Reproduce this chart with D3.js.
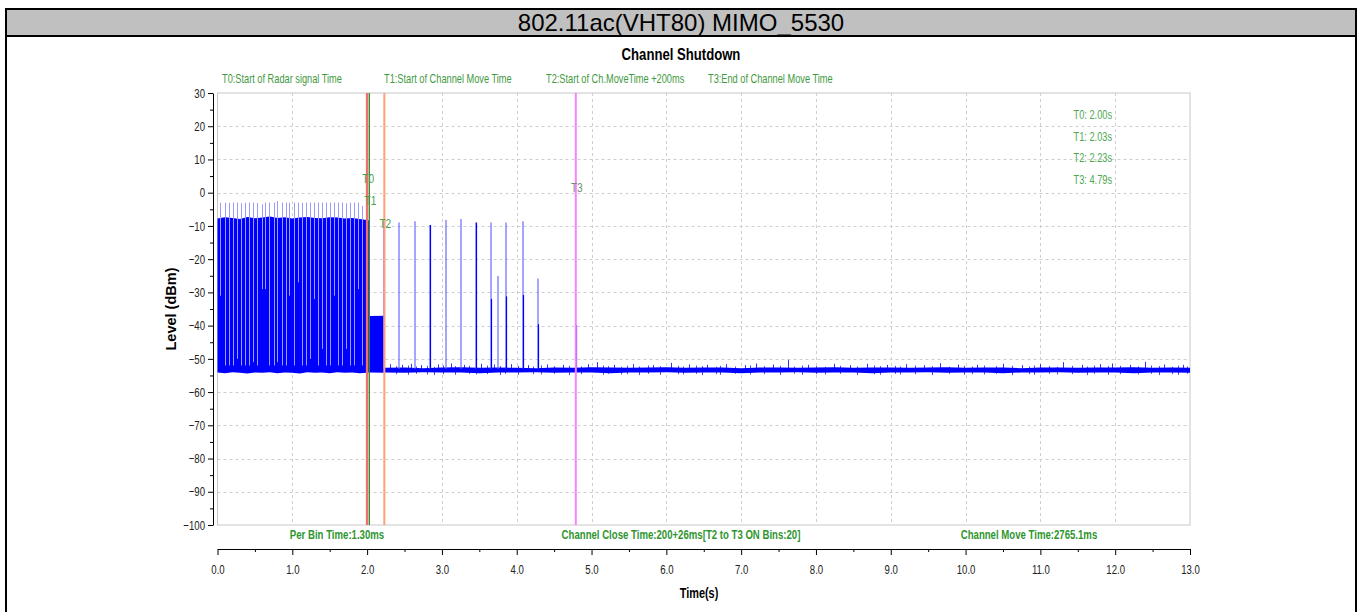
<!DOCTYPE html>
<html>
<head>
<meta charset="utf-8">
<script src="https://cdn.jsdelivr.net/npm/d3@7"></script>
<style>
  body { margin: 0; background: #fff; }
  text { font-family: "Liberation Sans", Arial, sans-serif; }
</style>
</head>
<body>
<svg id="chart" width="1362" height="612"></svg>
<script>
// ---- data ----
const chartTitle = "802.11ac(VHT80) MIMO_5530";
const plotTitle = "Channel Shutdown";
const xTicks = [0, 1, 2, 3, 4, 5, 6, 7, 8, 9, 10, 11, 12, 13];
const xMinor = [0.5, 1.5, 2.5, 3.5, 4.5, 5.5, 6.5, 7.5, 8.5, 9.5, 10.5, 11.5, 12.5];
const yTicks = [-100, -90, -80, -70, -60, -50, -40, -30, -20, -10, 0, 10, 20, 30];
const yMinor = [-95, -85, -75, -65, -55, -45, -35, -25, -15, -5, 5, 15, 25];

// markers T0..T3 (s)
const markerNames = ["T0", "T1", "T2", "T3"];
const markerT = [2.00, 2.03, 2.23, 4.79];
const topNotes = ["T0:Start of Radar signal Time", "T1:Start of Channel Move Time",
                  "T2:Start of Ch.MoveTime +200ms", "T3:End of Channel Move Time"];
const bottomNotes = ["Per Bin Time:1.30ms", "Channel Close Time:200+26ms[T2 to T3 ON Bins:20]",
                     "Channel Move Time:2765.1ms"];

// dense radar burst block (0 - 2.03 s): top edge, bottom edge (dBm)
const denseT   = [0.00, 0.10, 0.20, 0.30, 0.40, 0.50, 0.60, 0.70, 0.80, 0.90, 1.00, 1.10, 1.20, 1.30, 1.40, 1.50, 1.60, 1.70, 1.80, 1.90, 2.00, 2.03];
const denseTop = [-7.8, -7.4, -7.6, -7.9, -7.3, -7.7, -7.5, -7.2, -7.6, -7.4, -7.8, -7.5, -7.3, -7.6, -7.7, -7.4, -7.5, -7.8, -7.6, -7.9, -8.2, -8.4];
const denseLow = [-54.1, -54.3, -54.0, -54.2, -54.4, -54.1, -54.2, -54.0, -54.3, -54.1, -54.2, -54.4, -54.0, -54.2, -54.1, -54.3, -54.0, -54.2, -54.1, -54.3, -54.2, -54.0];

// comb pulses in the burst: time, peak, lowest point of the thin trace
const burstT   = [0.04, 0.10, 0.15, 0.21, 0.26, 0.32, 0.37, 0.42, 0.48, 0.53, 0.59, 0.64, 0.69, 0.75, 0.80, 0.86, 0.91, 0.96, 1.02,
                  1.07, 1.13, 1.18, 1.23, 1.29, 1.34, 1.40, 1.45, 1.50, 1.56, 1.61, 1.67, 1.72, 1.77, 1.83, 1.88, 1.93, 1.98];
const burstTop = [-3.0, -3.0, -3.1, -3.0, -3.0, -3.2, -3.0, -3.0, -3.0, -3.1, -3.5, -3.0, -3.0, -3.0, -2.5, -3.0, -3.0, -3.0, -3.0,
                  -3.0, -3.1, -3.0, -3.0, -3.0, -3.0, -3.0, -3.0, -3.0, -3.0, -3.0, -3.0, -3.2, -3.0, -3.0, -3.0, -4.0, -4.5];
const burstLow = [-31, -52, -52, -52, -50, -52, -52, -52, -51, -52, -29, -29, -52, -52, -51, -52, -52, -31, -52,
                  -27, -52, -52, -50, -32, -52, -47, -52, -52, -31, -52, -52, -47, -52, -52, -29, -52, -29];

// T1 -> T2 block
const midT   = [2.03, 2.23];
const midTop = [-37.1, -37.0];
const midLow = [-54.1, -54.2];

// single pulses after T2: time, peak, top of the solid part
const pulseT    = [2.23, 2.43, 2.64, 2.84, 3.05, 3.25, 3.45, 3.66, 3.75, 3.86, 4.08, 4.28, 4.79];
const pulseTop  = [-8.5, -9.0, -8.6, -9.7, -8.2, -7.9, -9.0, -9.0, -25.1, -9.0, -8.6, -25.8, -39.8];
const pulseCore = [-8.5, -53, -53, -9.7, -53, -53, -9.0, -32.0, -53, -31.2, -30.8, -39.6, -39.8];

// noise floor band after T2
const floorT  = [2.23, 2.50, 2.75, 3.00, 3.25, 3.50, 3.75, 4.00, 4.25, 4.50, 4.75, 5.00, 5.25, 5.50, 5.75, 6.00, 6.25, 6.50, 6.75, 7.00, 7.25, 7.50,
                 7.75, 8.00, 8.25, 8.50, 8.75, 9.00, 9.25, 9.50, 9.75, 10.00, 10.25, 10.50, 10.75, 11.00, 11.25, 11.50, 11.75, 12.00, 12.25, 12.50, 12.75, 13.00];
const floorHi = [-52.7, -52.6, -52.8, -52.6, -52.5, -52.7, -52.6, -52.7, -52.8, -52.6, -52.7, -52.5, -52.6, -52.7, -52.6, -52.5, -52.7, -52.6, -52.6, -52.8, -52.6, -52.6,
                 -52.7, -52.6, -52.5, -52.7, -52.6, -52.6, -52.7, -52.6, -52.5, -52.7, -52.6, -52.6, -52.8, -52.6, -52.6, -52.7, -52.6, -52.6, -52.5, -52.7, -52.6, -52.7];
const floorLo = [-54.1, -54.2, -54.0, -54.1, -54.1, -54.3, -54.1, -54.1, -54.0, -54.2, -54.1, -54.1, -54.3, -54.1, -54.1, -54.0, -54.2, -54.1, -54.1, -54.3, -54.1, -54.1,
                 -54.0, -54.2, -54.1, -54.1, -54.3, -54.1, -54.1, -54.0, -54.2, -54.1, -54.1, -54.3, -54.1, -54.1, -54.0, -54.2, -54.1, -54.1, -54.3, -54.1, -54.1, -54.2];
// visible noise spikes above and below the floor
const peakT = [2.31, 2.47, 2.58, 2.72, 2.95, 3.12, 3.30, 3.52, 3.70, 3.93, 4.15, 4.40, 4.62, 4.95, 5.07, 5.30, 5.55, 5.82, 6.06, 6.30, 6.55, 6.80, 7.05, 7.20,
               7.42, 7.63, 7.90, 8.24, 8.45, 8.68, 8.95, 9.20, 9.45, 9.66, 9.90, 10.15, 10.50, 10.75, 11.00, 11.30, 11.55, 11.80, 11.96, 12.20, 12.40, 12.65, 12.90];
const peakV = [-51.6, -51.8, -51.5, -51.9, -51.7, -51.4, -51.8, -51.5, -51.7, -51.6, -51.9, -51.7, -51.8, -51.6, -51.0, -51.8, -51.6, -51.9, -51.2, -51.7, -51.8, -51.6, -51.9, -51.4,
               -51.7, -50.3, -51.8, -51.5, -51.9, -51.5, -51.8, -51.6, -51.9, -51.3, -51.7, -51.8, -51.5, -51.9, -51.6, -51.0, -51.8, -51.6, -51.4, -51.8, -50.9, -51.7, -51.8];
const smallT = [2.38, 2.54, 2.66, 2.80, 2.90, 3.02, 3.18, 3.36, 3.45, 3.60, 3.78, 3.84, 4.02, 4.22, 4.33, 4.50, 4.70, 4.86, 5.15, 5.22, 5.40, 5.48, 5.64, 5.75,
                5.92, 6.15, 6.22, 6.40, 6.48, 6.66, 6.72, 6.92, 7.12, 7.30, 7.52, 7.70, 7.82, 8.00, 8.12, 8.32, 8.55, 8.78, 8.86, 9.05, 9.12, 9.32, 9.55, 9.78,
                9.98, 10.08, 10.25, 10.40, 10.62, 10.85, 10.92, 11.12, 11.22, 11.42, 11.62, 11.72, 11.90, 12.06, 12.30, 12.48, 12.58, 12.76, 12.84, 12.96];
const smallHi = [-52.2, -52.0, -52.3, -52.1, -52.4, -52.0, -52.2, -52.1, -52.3, -52.0, -52.2, -52.4, -52.1, -52.3, -52.0, -52.2, -52.1, -52.3, -52.0, -52.2, -52.4, -52.1, -52.3, -52.0,
                 -52.2, -52.1, -52.3, -52.0, -52.2, -52.4, -52.1, -52.3, -52.0, -52.2, -52.1, -52.3, -52.0, -52.2, -52.4, -52.1, -52.3, -52.0, -52.2, -52.1, -52.3, -52.0, -52.2, -52.4,
                 -52.1, -52.3, -52.0, -52.2, -52.1, -52.3, -52.0, -52.2, -52.4, -52.1, -52.3, -52.0, -52.2, -52.1, -52.3, -52.0, -52.2, -52.4, -52.1, -52.3];
const smallLo = [-54.6, -54.8, -54.5, -54.7, -54.9, -54.6, -54.8, -54.5, -54.7, -54.6, -54.9, -54.5, -54.8, -54.6, -54.7, -54.5, -54.9, -54.6, -54.8, -54.5, -54.7, -54.6, -54.9, -54.5,
                 -54.8, -54.6, -54.7, -54.5, -54.9, -54.6, -54.8, -54.5, -54.7, -54.6, -54.9, -54.5, -54.8, -54.6, -54.7, -54.5, -54.9, -54.6, -54.8, -54.5, -54.7, -54.6, -54.9, -54.5,
                 -54.8, -54.6, -54.7, -54.5, -54.9, -54.6, -54.8, -54.5, -54.7, -54.6, -54.9, -54.5, -54.8, -54.6, -54.7, -54.5, -54.9, -54.6, -54.8, -54.5];

// ---- drawing ----
const svg = d3.select("#chart");
const x = d3.scaleLinear().domain([0, 13]).range([217.5, 1190]);
const y = d3.scaleLinear().domain([-100, 30]).range([525, 93]);
const px = t => Math.round(x(t)) + 0.5; // crisp 1px verticals

// squeeze text horizontally (chart font is a narrow face)
function squeeze(sel, k) {
  sel.each(function () {
    const t = d3.select(this);
    const tx = +t.attr("x") || 0, ty = +t.attr("y") || 0;
    t.attr("x", 0).attr("y", 0).attr("transform", `translate(${tx},${ty}) scale(${k},1)`);
  });
}

// frame and title bar
svg.append("rect").attr("x", 6).attr("y", 9).attr("width", 1350).attr("height", 640)
  .attr("fill", "#fff").attr("stroke", "#000").attr("stroke-width", 2);
svg.append("rect").attr("x", 6).attr("y", 9).attr("width", 1350).attr("height", 27)
  .attr("fill", "#c0c0c0").attr("stroke", "#000").attr("stroke-width", 2);
svg.append("text").attr("x", 681).attr("y", 31).attr("text-anchor", "middle")
  .style("font-size", "24px").text(chartTitle);

svg.append("text").attr("x", 681).attr("y", 60).attr("text-anchor", "middle")
  .style("font-size", "16px").style("font-weight", "bold").text(plotTitle)
  .call(squeeze, 0.82);

// grid
const grid = svg.append("g");
grid.selectAll(".hg").data(yTicks.slice(1, -1)).join("line")
  .attr("x1", x(0)).attr("x2", x(13)).attr("y1", d => Math.round(y(d)) + 0.5).attr("y2", d => Math.round(y(d)) + 0.5)
  .attr("stroke", "#cfcfcf").attr("stroke-dasharray", "3,3");
grid.selectAll(".vg").data(xTicks.slice(1, -1)).join("line")
  .attr("y1", y(30)).attr("y2", y(-100)).attr("x1", d => px(d)).attr("x2", d => px(d))
  .attr("stroke", "#cfcfcf").attr("stroke-dasharray", "3,3");
svg.append("rect").attr("x", x(0)).attr("y", y(30)).attr("width", x(13) - x(0)).attr("height", y(-100) - y(30))
  .attr("fill", "none").attr("stroke", "#c8c8c8");

// traces
const blue = "#0000ff", lightBlue = "#9a9aff";
const plot = svg.append("g");
const band = d3.area().x(d => x(d[0])).y0(d => y(d[2])).y1(d => y(d[1]));
plot.append("path").datum(denseT.map((t, i) => [t, denseTop[i], denseLow[i]]))
  .attr("d", band).attr("fill", blue);
plot.append("path").datum(midT.map((t, i) => [t, midTop[i], midLow[i]]))
  .attr("d", band).attr("fill", blue);
plot.append("path").datum(floorT.map((t, i) => [t, floorHi[i], floorLo[i]]))
  .attr("d", band).attr("fill", blue);

plot.selectAll(".burst").data(burstT).join("line")
  .attr("x1", d => px(d)).attr("x2", d => px(d))
  .attr("y1", (d, i) => y(burstTop[i])).attr("y2", (d, i) => y(burstLow[i]))
  .attr("stroke", lightBlue).attr("stroke-width", 1);

plot.selectAll(".small").data(smallT).join("line")
  .attr("x1", d => px(d)).attr("x2", d => px(d))
  .attr("y1", (d, i) => y(smallHi[i])).attr("y2", (d, i) => y(smallLo[i]))
  .attr("stroke", blue).attr("stroke-width", 1).attr("opacity", 0.7);
plot.selectAll(".peak").data(peakT).join("line")
  .attr("x1", d => px(d)).attr("x2", d => px(d))
  .attr("y1", (d, i) => y(peakV[i])).attr("y2", y(-53.5))
  .attr("stroke", blue).attr("stroke-width", 1).attr("opacity", 0.8);

plot.selectAll(".pulse").data(pulseT).join("line")
  .attr("x1", d => Math.round(x(d))).attr("x2", d => Math.round(x(d)))
  .attr("y1", (d, i) => y(pulseTop[i])).attr("y2", y(-53))
  .attr("stroke", "#6a6aff").attr("stroke-width", 1.2);
plot.selectAll(".pulsecore").data(pulseT).join("line")
  .attr("x1", d => px(d)).attr("x2", d => px(d))
  .attr("y1", (d, i) => y(pulseCore[i])).attr("y2", y(-53))
  .attr("stroke", blue).attr("stroke-width", 1.2);

// marker lines
const markerColor = ["#f07070", "#2e8b2e", "#ffa07a", "#ff80ff"];
const markerWidth = [2.5, 1.2, 2, 2];
const markerLabelY = [4, -2.5, -9.5, 1.5];
svg.selectAll(".marker").data(markerT).join("line")
  .attr("x1", d => x(d)).attr("x2", d => x(d)).attr("y1", y(30)).attr("y2", y(-100))
  .attr("stroke", (d, i) => markerColor[i]).attr("stroke-width", (d, i) => markerWidth[i]);
svg.selectAll(".mlabel").data(markerNames).join("text")
  .attr("x", (d, i) => x(markerT[i]) + 1).attr("y", (d, i) => y(markerLabelY[i]) + 4)
  .attr("text-anchor", "middle").style("font-size", "12px")
  .attr("fill", (d, i) => i === 3 ? "#6f8f6f" : "#4c9f4c").text(d => d)
  .call(squeeze, 0.85);

// notes
svg.selectAll(".top").data(topNotes).join("text")
  .attr("x", (d, i) => 222 + i * 162).attr("y", 83)
  .style("font-size", "12px").attr("fill", "#3f9a3f").text(d => d)
  .call(squeeze, 0.77);
const fmt = d3.format(".2f");
svg.selectAll(".info").data(markerNames).join("text")
  .attr("x", 1112).attr("y", (d, i) => 119 + i * 21.7).attr("text-anchor", "end")
  .style("font-size", "12px").attr("fill", "#4fa84f").text((d, i) => d + ": " + fmt(markerT[i]) + "s")
  .call(squeeze, 0.77);
const noteX = [337, 681, 1029];
svg.selectAll(".bottom").data(bottomNotes).join("text")
  .attr("x", (d, i) => noteX[i]).attr("y", 539).attr("text-anchor", "middle")
  .style("font-size", "13px").style("font-weight", "bold").attr("fill", "#2f962f").text(d => d)
  .call(squeeze, 0.74);

// axes
svg.append("g").attr("transform", "translate(213,0)")
  .call(d3.axisLeft(y).tickValues(yTicks).tickSize(5).tickSizeOuter(0));
svg.append("g").attr("transform", "translate(213,0)")
  .call(d3.axisLeft(y).tickValues(yMinor).tickSize(3).tickFormat("").tickSizeOuter(0))
  .select(".domain").remove();
svg.append("g").attr("transform", "translate(0,549)")
  .call(d3.axisBottom(x).tickValues(xTicks).tickSize(6).tickPadding(10).tickFormat(d3.format(".1f")).tickSizeOuter(0));
svg.append("g").attr("transform", "translate(0,549)")
  .call(d3.axisBottom(x).tickValues(xMinor).tickSize(3).tickFormat("").tickSizeOuter(0))
  .select(".domain").remove();
svg.selectAll(".tick text").style("font-family", "'Liberation Sans', Arial, sans-serif")
  .style("font-size", "13px").attr("fill", "#222")
  .call(squeeze, 0.74);

svg.append("text").attr("transform", "translate(176,309) rotate(-90)")
  .attr("text-anchor", "middle").style("font-size", "14.5px").style("font-weight", "bold").text("Level (dBm)");
svg.append("text").attr("x", 699).attr("y", 598)
  .attr("text-anchor", "middle").style("font-size", "14px").style("font-weight", "bold").text("Time(s)")
  .call(squeeze, 0.78);
</script>
</body>
</html>
